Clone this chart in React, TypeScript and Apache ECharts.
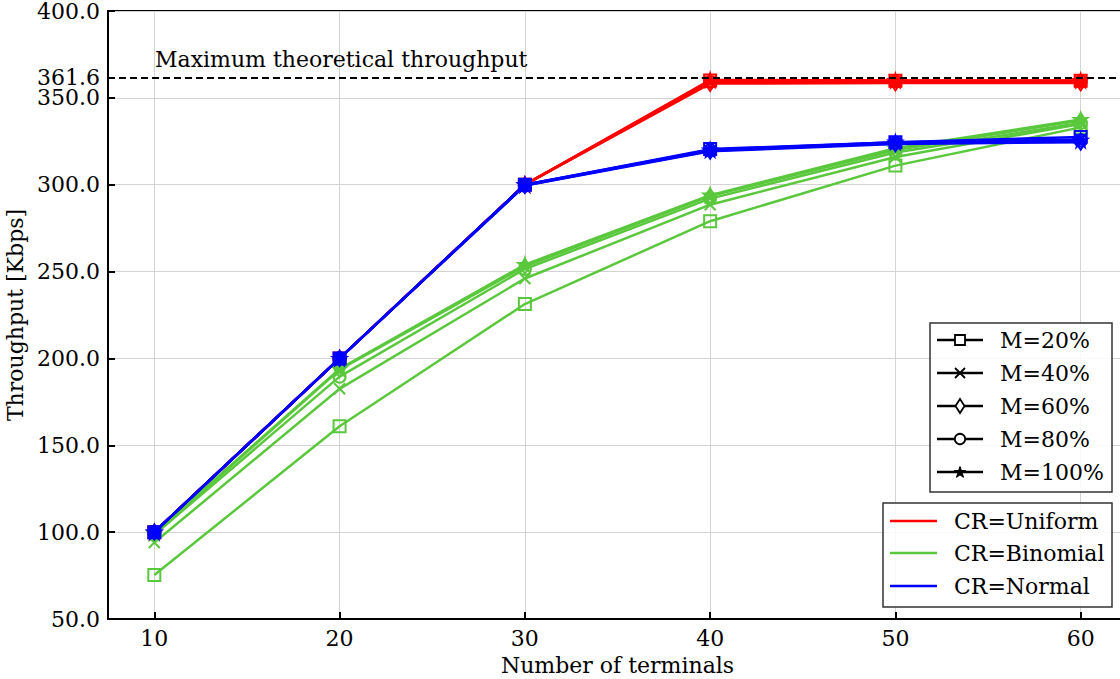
import React, { useEffect, useRef } from "react";
import * as echarts from "echarts";

const terminals = [10, 20, 30, 40, 50, 60];
const maxTheoretical = 361.6;

const mLabels = ["M=20%", "M=40%", "M=60%", "M=80%", "M=100%"];
const crLabels = ["CR=Uniform", "CR=Binomial", "CR=Normal"];

const uniformM20 = [100, 200, 300, 360, 359.8, 359.8];
const uniformM40 = [100, 200, 300, 359, 359, 359];
const uniformM60 = [100, 200, 300, 358.2, 358.5, 358.5];
const uniformM80 = [100, 200, 300, 359.3, 359.4, 359.4];
const uniformM100 = [100, 200, 300, 360.3, 360, 360];

const binomialM20 = [75.3, 161, 231.3, 279, 311, 333];
const binomialM40 = [94, 182.5, 246, 288.5, 316, 335];
const binomialM60 = [99, 193.5, 253, 293.5, 320, 337];
const binomialM80 = [98.5, 189.5, 251.5, 292, 318.5, 335.5];
const binomialM100 = [99.5, 194, 254, 294, 321, 337.5];

const normalM20 = [100, 200, 300, 320.5, 324.5, 327.5];
const normalM40 = [100, 200, 300, 319.5, 324, 326];
const normalM60 = [100, 200, 299.5, 319.2, 323.5, 324.5];
const normalM80 = [100, 200, 299.5, 320, 324, 325.5];
const normalM100 = [100, 200, 300, 320, 324.5, 325.5];

const RED = "#ff0000";
const GREEN = "#5ac83c";
const BLUE = "#0000ff";
const FONT = "DejaVu Serif";
const FS = 22;

const STAR =
  "path://M50,0L61.8,36.2L100,36.2L69.1,58.6L80.9,95.1L50,72.4L19.1,95.1L30.9,58.6L0,36.2L38.2,36.2Z";
const CROSS = "path://M0,0L10,10M10,0L0,10";
const THIN_DIAMOND = "path://M3,0L6,5L3,10L0,5Z";

type MarkerDef = { symbol: string; size: number | number[]; filled: boolean };
const markers: MarkerDef[] = [
  { symbol: "rect", size: 12, filled: false },
  { symbol: CROSS, size: 11, filled: false },
  { symbol: THIN_DIAMOND, size: [10, 15], filled: false },
  { symbol: "circle", size: 12, filled: false },
  { symbol: STAR, size: 13, filled: true },
];

const groups = [
  { color: RED, data: [uniformM20, uniformM40, uniformM60, uniformM80, uniformM100] },
  { color: GREEN, data: [binomialM20, binomialM40, binomialM60, binomialM80, binomialM100] },
  { color: BLUE, data: [normalM20, normalM40, normalM60, normalM80, normalM100] },
];

function buildSeries() {
  const series: any[] = [];
  groups.forEach((g, gi) => {
    g.data.forEach((vals, mi) => {
      const mk = markers[mi];
      series.push({
        type: "line",
        name: crLabels[gi] + " " + mLabels[mi],
        data: terminals.map((t, i) => [t, vals[i]]),
        symbol: mk.symbol,
        symbolSize: mk.size,
        showAllSymbol: true,
        lineStyle: { color: g.color, width: 2.5 },
        itemStyle: {
          color: mk.filled ? g.color : "rgba(0,0,0,0)",
          borderColor: g.color,
          borderWidth: 2,
        },
        emphasis: { disabled: true },
        z: 2 + gi,
      });
    });
  });
  series.push({
    type: "line",
    data: [],
    silent: true,
    markLine: {
      silent: true,
      symbol: ["none", "none"],
      lineStyle: { color: "#000", width: 2, type: [7, 4] },
      label: {
        show: true,
        position: "start",
        formatter: maxTheoretical.toFixed(1),
        fontFamily: FONT,
        fontSize: FS,
        color: "#000",
        distance: 8,
      },
      data: [{ yAxis: maxTheoretical }],
    },
    z: 10,
  });
  return series;
}

function legendGraphics() {
  const els: any[] = [];
  const boxStyle = { fill: "rgba(255,255,255,0.85)", stroke: "#333", lineWidth: 1.5 };
  const font = `${FS}px "${FONT}"`;
  // Legend 1: markers
  els.push({ type: "rect", shape: { x: 930, y: 323, width: 182, height: 169 }, style: boxStyle, z: 100 });
  const rowY = [340, 373, 406, 439, 472];
  rowY.forEach((y, i) => {
    els.push({ type: "line", shape: { x1: 937, y1: y, x2: 983, y2: y }, style: { stroke: "#000", lineWidth: 2.5 }, z: 101 });
    const cx = 960;
    const st = { stroke: "#000", fill: "#fff", lineWidth: 1.8 };
    if (i === 0) els.push({ type: "rect", shape: { x: cx - 5, y: y - 5, width: 10, height: 10 }, style: st, z: 102 });
    if (i === 1) {
      els.push({ type: "line", shape: { x1: cx - 5, y1: y - 5, x2: cx + 5, y2: y + 5 }, style: { stroke: "#000", lineWidth: 1.8 }, z: 102 });
      els.push({ type: "line", shape: { x1: cx - 5, y1: y + 5, x2: cx + 5, y2: y - 5 }, style: { stroke: "#000", lineWidth: 1.8 }, z: 102 });
    }
    if (i === 2)
      els.push({ type: "polygon", shape: { points: [[cx, y - 7], [cx + 4.5, y], [cx, y + 7], [cx - 4.5, y]] }, style: st, z: 102 });
    if (i === 3) els.push({ type: "circle", shape: { cx, cy: y, r: 5.2 }, style: st, z: 102 });
    if (i === 4) {
      const pts: number[][] = [];
      for (let k = 0; k < 10; k++) {
        const r = k % 2 === 0 ? 6 : 2.4;
        const a = -Math.PI / 2 + (k * Math.PI) / 5;
        pts.push([cx + r * Math.cos(a), y + 0.5 + r * Math.sin(a)]);
      }
      els.push({ type: "polygon", shape: { points: pts }, style: { fill: "#000", stroke: "#000", lineWidth: 1 }, z: 102 });
    }
    els.push({
      type: "text",
      x: 1000,
      y: y,
      style: { text: mLabels[i], font, fill: "#000", textVerticalAlign: "middle", verticalAlign: "middle" },
      z: 103,
    });
  });
  // Legend 2: colors
  els.push({ type: "rect", shape: { x: 883, y: 503, width: 229, height: 104 }, style: boxStyle, z: 100 });
  const row2 = [521, 553, 586];
  const cols = [RED, GREEN, BLUE];
  row2.forEach((y, i) => {
    els.push({ type: "line", shape: { x1: 890, y1: y, x2: 937, y2: y }, style: { stroke: cols[i], lineWidth: 2.5 }, z: 101 });
    els.push({
      type: "text",
      x: 954,
      y: y,
      style: { text: crLabels[i], font, fill: "#000", textVerticalAlign: "middle", verticalAlign: "middle" },
      z: 103,
    });
  });
  // annotation
  els.push({
    type: "text",
    x: 155,
    y: 59,
    style: { text: "Maximum theoretical throughput", font, fill: "#000", verticalAlign: "middle", textVerticalAlign: "middle" },
    z: 103,
  });
  return els;
}

export default function App() {
  const ref = useRef<HTMLDivElement>(null);
  useEffect(() => {
    if (!ref.current) return;
    const chart = echarts.init(ref.current, null, { renderer: "svg" });
    chart.setOption({
      animation: false,
      backgroundColor: "#fff",
      textStyle: { fontFamily: FONT },
      grid: {
        left: 108,
        top: 11,
        width: 1019,
        height: 608,
        show: true,
        borderColor: "#000",
        borderWidth: 2,
        outerBoundsMode: "none",
        containLabel: false,
      },
      xAxis: {
        type: "value",
        min: 7.5,
        max: 62.5,
        name: "Number of terminals",
        nameLocation: "middle",
        nameGap: 35,
        nameTextStyle: { fontFamily: FONT, fontSize: FS, color: "#000" },
        axisLine: { show: true, onZero: false, lineStyle: { color: "#000", width: 2 } },
        axisTick: { show: true, inside: true, length: 7, lineStyle: { color: "#000", width: 2 }, customValues: terminals },
        axisLabel: { fontFamily: FONT, fontSize: FS, color: "#000", margin: 8, customValues: terminals },
        splitLine: { show: true, lineStyle: { color: "#d3d3d3", width: 1 } },
      },
      yAxis: {
        type: "value",
        min: 50,
        max: 400,
        interval: 50,
        name: "Throughput [Kbps]",
        nameLocation: "middle",
        nameGap: 80,
        nameTextStyle: { fontFamily: FONT, fontSize: FS, color: "#000" },
        axisLine: { show: true, onZero: false, lineStyle: { color: "#000", width: 2 } },
        axisTick: { show: true, inside: true, length: 7, lineStyle: { color: "#000", width: 2 } },
        axisLabel: { fontFamily: FONT, fontSize: FS, color: "#000", margin: 8, formatter: (v: number) => v.toFixed(1) },
        splitLine: { show: true, lineStyle: { color: "#d3d3d3", width: 1 } },
      },
      series: buildSeries(),
      graphic: legendGraphics(),
    });
    return () => chart.dispose();
  }, []);
  return (
    <div
      ref={ref}
      style={{ position: "fixed", left: 0, top: 0, width: 1120, height: 679, overflow: "hidden", background: "#fff" }}
    />
  );
}
